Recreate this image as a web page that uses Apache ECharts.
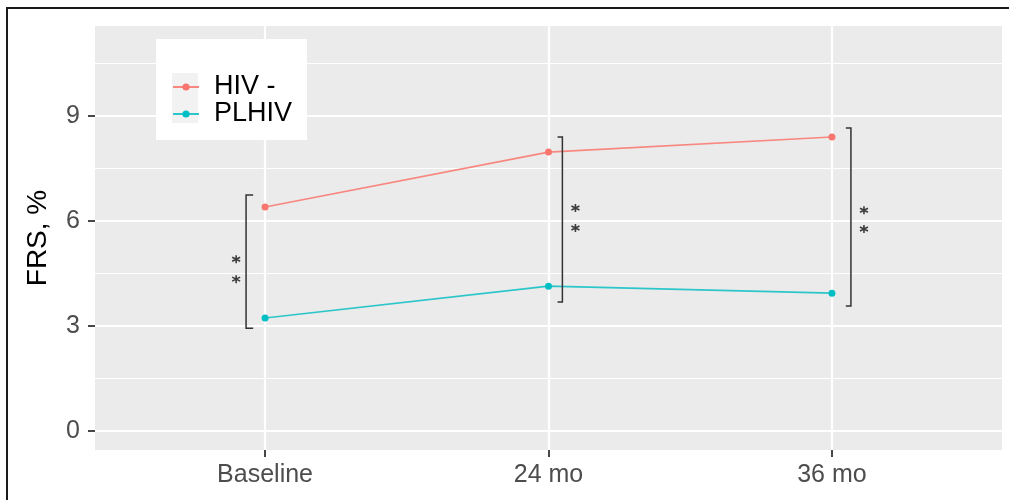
<!DOCTYPE html>
<html><head><meta charset="utf-8">
<script src="https://cdn.jsdelivr.net/npm/echarts@6/dist/echarts.min.js"></script>
<style>html,body{margin:0;padding:0;background:#fff}#c{width:1009px;height:500px}</style>
</head><body><div id="c"></div>
<script>
const categories = ['Baseline', '24 mo', '36 mo'];
const seriesNames = ['HIV -', 'PLHIV'];
const hivNeg = [6.40, 7.97, 8.40];
const plhiv = [3.23, 4.14, 3.94];
const yTicks = [0, 3, 6, 9];
const yMinor = [1.5, 4.5, 7.5, 10.5];
const xTicks = [0, 1, 2];
const bracketX = [-0.067, 1.049, 2.067];
const bracketEndX = [-0.042, 1.032, 2.049];
const bracketLow = [2.94, 3.69, 3.57];
const bracketHigh = [6.74, 8.40, 8.66];
const starX = [-0.102, 1.095, 2.113];
const starUpper = [4.91, 6.37, 6.31];
const starLower = [4.34, 5.80, 5.77];

const FONT = '"Liberation Sans", Arial, sans-serif';
const chart = echarts.init(document.getElementById('c'), null, {renderer: 'canvas'});

const gridLines = [];
yTicks.forEach(v => gridLines.push({yAxis: v, lineStyle: {color: '#fff', width: 2.2, type: 'solid'}}));
yMinor.forEach(v => gridLines.push({yAxis: v, lineStyle: {color: '#fff', width: 1.1, type: 'solid'}}));
xTicks.forEach(v => gridLines.push({xAxis: v, lineStyle: {color: '#fff', width: 2.2, type: 'solid'}}));

const starData = [];
starX.forEach((x, i) => { starData.push([x, starUpper[i]]); starData.push([x, starLower[i]]); });

const option = {
  animation: false,
  backgroundColor: '#fff',
  grid: {left: 95, right: 7, top: 26, bottom: 50, show: true, backgroundColor: '#EBEBEB', borderWidth: 0},
  xAxis: {
    type: 'value', min: -0.6, max: 2.6,
    axisLine: {show: false, onZero: false},
    axisTick: {show: true, length: 7, lineStyle: {color: '#333', width: 1.8}, customValues: xTicks},
    axisLabel: {customValues: xTicks, formatter: v => categories[Math.round(v)] || '', color: '#4D4D4D', fontSize: 25, fontFamily: FONT, margin: 13},
    splitLine: {show: false}
  },
  yAxis: {
    type: 'value', min: -0.54, max: 11.57,
    name: 'FRS, %', nameLocation: 'middle', nameRotate: 90, nameGap: 37,
    nameTextStyle: {color: '#000', fontSize: 28, fontFamily: FONT, padding: [0, 0, 6, 0]},
    axisLine: {show: false, onZero: false},
    axisTick: {show: true, length: 7, lineStyle: {color: '#333', width: 1.8}, customValues: yTicks},
    axisLabel: {customValues: yTicks, color: '#4D4D4D', fontSize: 25, fontFamily: FONT, margin: 15},
    splitLine: {show: false}
  },
  legend: {
    data: seriesNames, orient: 'vertical', left: 172, top: 73.5, padding: 0,
    itemWidth: 26, itemHeight: 9, itemGap: 0, z: 10,
    textStyle: {fontSize: 27, lineHeight: 25, color: '#000', fontFamily: FONT, padding: [0, 0, 0, 10]}
  },
  graphic: [
    {type: 'rect', z: 5, shape: {x: 156, y: 39, width: 151, height: 101}, style: {fill: '#fff'}},
    {type: 'rect', z: 6, shape: {x: 172, y: 73, width: 26, height: 50}, style: {fill: '#F2F2F2'}},
    {type: 'rect', z: 20, shape: {x: 7, y: 8, width: 1012, height: 500}, style: {fill: null, stroke: '#1a1a1a', lineWidth: 2}}
  ],
  series: [
    {type: 'line', data: [], z: 1, silent: true,
     markLine: {z: 1, silent: true, symbol: ['none', 'none'], label: {show: false}, animation: false, data: gridLines}},
    {name: seriesNames[0], type: 'line', z: 3, data: hivNeg.map((v, i) => [i, v]),
     color: '#F8766D', symbol: 'circle', symbolSize: 7, lineStyle: {width: 1.7, color: '#F8877F'}, itemStyle: {color: '#F8766D'}},
    {name: seriesNames[1], type: 'line', z: 3, data: plhiv.map((v, i) => [i, v]),
     color: '#00BFC4', symbol: 'circle', symbolSize: 7, lineStyle: {width: 1.7, color: '#2CC6CA'}, itemStyle: {color: '#00BFC4'}},
    {type: 'custom', z: 4, silent: true,
     data: bracketX.map((x, i) => [x, bracketLow[i], bracketHigh[i], bracketEndX[i]]),
     encode: {x: [0, 3], y: [1, 2]},
     renderItem: function (params, api) {
       const x = api.value(0), lo = api.value(1), hi = api.value(2), ex = api.value(3);
       const pts = [api.coord([ex, lo]), api.coord([x, lo]), api.coord([x, hi]), api.coord([ex, hi])];
       return {type: 'polyline', shape: {points: pts}, style: {stroke: '#333', lineWidth: 1.5, fill: null}};
     }},
    {type: 'scatter', z: 4, silent: true, data: starData,
     symbol: 'path://M0,-5L0,5M-4.33,-2.5L4.33,2.5M-4.33,2.5L4.33,-2.5', symbolSize: 8,
     itemStyle: {color: 'rgba(0,0,0,0)', borderColor: '#111', borderWidth: 1.6}}
  ]
};
chart.setOption(option);
</script>
</body></html>
